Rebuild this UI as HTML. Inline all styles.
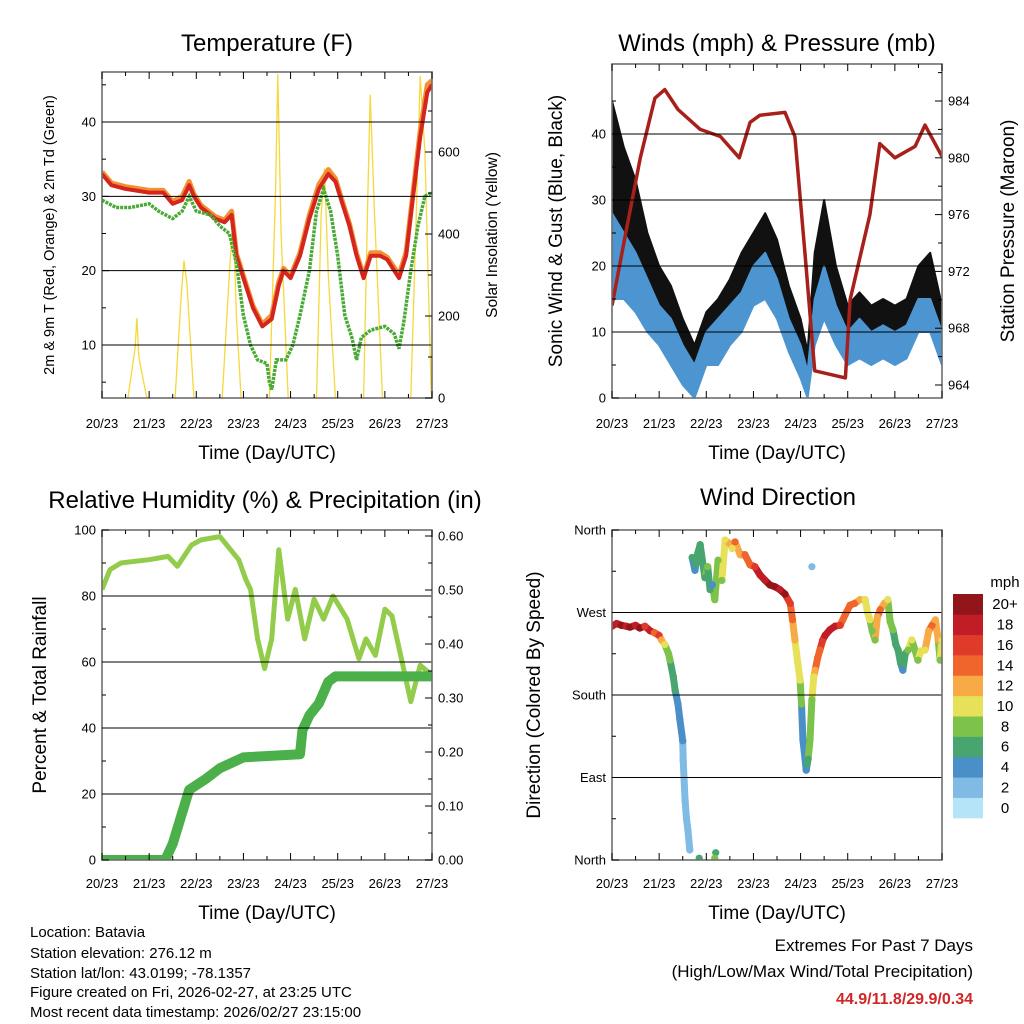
<!DOCTYPE html>
<html><head><meta charset="utf-8">
<style>
body{margin:0;background:#fff;}
svg{display:block;font-family:"Liberation Sans",sans-serif;}
</style></head>
<body>
<svg id="c" width="1024" height="1024" viewBox="0 0 1024 1024" xmlns="http://www.w3.org/2000/svg">
<g font-size="24" text-anchor="middle" fill="#000">
<text x="267" y="51">Temperature (F)</text>
<text x="777" y="51">Winds (mph) &amp; Pressure (mb)</text>
<text x="265" y="508">Relative Humidity (%) &amp; Precipitation (in)</text>
<text x="778" y="505">Wind Direction</text>
</g>
<g font-size="19" text-anchor="middle">
<text x="267" y="459">Time (Day/UTC)</text>
<text x="777" y="459">Time (Day/UTC)</text>
<text x="267" y="919">Time (Day/UTC)</text>
<text x="777" y="919">Time (Day/UTC)</text>
<text transform="translate(54,235) rotate(-90)" font-size="14.5">2m &amp; 9m T (Red, Orange) &amp; 2m Td (Green)</text>
<text transform="translate(497,235) rotate(-90)" font-size="15.5">Solar Insolation (Yellow)</text>
<text transform="translate(562,231) rotate(-90)">Sonic Wind &amp; Gust (Blue, Black)</text>
<text transform="translate(1014,231) rotate(-90)">Station Pressure (Maroon)</text>
<text transform="translate(46,695) rotate(-90)">Percent &amp; Total Rainfall</text>
<text transform="translate(540,695) rotate(-90)">Direction (Colored By Speed)</text>
</g>
<g font-size="15">
<text x="30" y="937">Location: Batavia</text>
<text x="30" y="958">Station elevation: 276.12 m</text>
<text x="30" y="978">Station lat/lon: 43.0199; -78.1357</text>
<text x="30" y="997">Figure created on Fri, 2026-02-27, at 23:25 UTC</text>
<text x="30" y="1017">Most recent data timestamp: 2026/02/27 23:15:00</text>
</g>
<g font-size="17" text-anchor="end">
<text x="973" y="951">Extremes For Past 7 Days</text>
<text x="973" y="977">(High/Low/Max Wind/Total Precipitation)</text>
<text x="973" y="1004" fill="#d02626" font-weight="bold" font-size="16">44.9/11.8/29.9/0.34</text>
</g>
</svg>
<script>
// ---- data ----
const dayLabels=["20/23","21/23","22/23","23/23","24/23","25/23","26/23","27/23"];
const tempT=[0,0.2,0.5,1.0,1.3,1.5,1.7,1.85,1.95,2.1,2.4,2.6,2.75,2.85,3.0,3.2,3.4,3.6,3.75,3.85,4.0,4.2,4.4,4.6,4.8,4.95,5.1,5.25,5.4,5.55,5.7,5.9,6.05,6.2,6.3,6.45,6.6,6.75,6.9,7.0];
const tempRed=[33,31.5,31,30.5,30.5,29,29.5,31.5,30,28.5,27,26.5,27.5,22,19,15,12.5,13.5,18,20,19,22,27,31,33,32,29,26,22,19,22,22,21.5,20,19,22,30,38,44,45];
const tempOrange=[33.3,31.8,31.3,30.8,30.8,29.3,30,32,30.3,28.8,27.3,26.8,28,22.3,19.3,15.3,12.8,14,18.5,20.3,19.3,22.4,27.5,31.6,33.6,32.4,29.3,26.3,22.3,19.3,22.4,22.4,21.8,20.4,19.4,22.5,30.6,38.8,45,45.6];
const dewT=[0,0.3,0.6,1.0,1.2,1.5,1.7,1.85,2.0,2.3,2.5,2.7,2.85,3.0,3.15,3.3,3.5,3.55,3.6,3.7,3.9,4.05,4.2,4.4,4.55,4.7,4.85,5.0,5.15,5.3,5.4,5.5,5.7,6.0,6.2,6.3,6.4,6.55,6.7,6.85,7.0];
const dewVals=[29.5,28.5,28.5,29,28,27,28,30,28,27.5,26,25,21,14,10,8,7.5,5,4,8,8,10,14,20,28,31,28,22,14,11,8,11,12,12.5,11.5,9.5,13,20,26,30,30.5];
const solarT=[0,0.55,0.7,0.74,0.78,0.95,1.55,1.68,1.74,1.8,1.95,2.55,2.7,2.78,2.85,2.95,3.55,3.68,3.73,3.8,3.95,4.55,4.65,4.72,4.8,4.95,5.55,5.64,5.69,5.78,5.95,6.55,6.68,6.75,6.85,6.98,7.0];
const solarVals=[0,0,120,195,100,0,0,250,335,280,0,0,300,445,200,0,0,500,790,400,0,0,450,560,300,0,0,500,740,450,0,0,500,785,600,20,0];
const windT=[0,0.25,0.5,0.75,1.0,1.25,1.5,1.75,2.0,2.25,2.5,2.75,3.0,3.25,3.5,3.75,4.0,4.15,4.3,4.5,4.75,5.0,5.25,5.5,5.75,6.0,6.25,6.5,6.75,7.0];
const windLow=[15,15,13,10,8,5,2,0,5,5,8,10,14,15,12,7,3,0,8,12,8,5,6,5,6,5,6,10,10,5];
const windHigh=[28,25,22,18,14,12,8,5,10,12,14,16,20,22,18,12,8,4,15,20,14,10,12,10,11,10,11,15,15,10];
const gustLow=[28,25,20,17,12,10,6,2,8,10,12,15,18,20,16,10,5,2,12,18,12,8,10,8,9,8,9,14,14,8];
const gustHigh=[45,38,33,25,20,17,12,8,13,15,18,22,25,28,24,17,12,7,22,30,20,14,16,14,15,14,15,20,22,14];
const presT=[0,0.28,0.6,0.91,1.12,1.4,1.87,2.3,2.7,2.93,3.14,3.67,3.88,4.1,4.3,4.95,5.05,5.47,5.68,6.0,6.43,6.64,7.0];
const presVals=[969.6,974.5,980,984.2,984.8,983.4,982,981.5,980,982.5,983,983.2,981.5,973,965,964.5,970,976,981,980,980.8,982.3,980.1];
const rhT=[0,0.17,0.4,1.0,1.4,1.6,1.9,2.1,2.5,2.9,3.05,3.15,3.3,3.45,3.6,3.75,3.94,4.1,4.3,4.5,4.7,4.9,5.2,5.45,5.6,5.8,6.0,6.15,6.35,6.55,6.75,7.0];
const rhVals=[82,88,90,91,92,89,95.5,97,98,91,85,82,67,58,67,94,73,82,67,79,73,80,73,61,67,62,76,74,61,48,59,56];
const precipT=[0,1.34,1.5,1.85,2.2,2.5,2.75,3.0,4.2,4.25,4.4,4.6,4.8,4.95,7.0];
const precipVals=[0,0,0.03,0.13,0.15,0.17,0.18,0.19,0.196,0.24,0.268,0.29,0.33,0.34,0.34];
const dirT=[0,.1,.2,.3,.38,.5,.59,.7,.81,.9,1.0,1.05,1.12,1.2,1.23,1.3,1.34,1.4,1.44,1.5,1.51,1.55,1.58,1.61,1.65,1.70,1.76,1.82,1.87,1.97,2.03,2.08,2.13,2.18,2.25,2.33,2.40,2.50,2.55,2.61,2.72,2.82,2.93,3.03,3.14,3.25,3.35,3.46,3.56,3.67,3.78,3.83,3.88,3.94,3.99,4.02,4.05,4.12,4.16,4.20,4.24,4.28,4.31,4.36,4.41,4.47,4.52,4.62,4.73,4.84,4.95,5.05,5.15,5.26,5.37,5.42,5.47,5.52,5.58,5.63,5.69,5.78,5.85,5.9,5.96,6.02,6.07,6.12,6.17,6.22,6.28,6.36,6.42,6.49,6.55,6.64,6.72,6.79,6.86,6.92,6.96,7.0,1.85,2.2,2.18,4.24];
const dirDeg=[255,258,256,255,254,256,253,255,250,248,245,240,235,225,218,200,185,170,153,130,109,65,45,33,11,330,316,335,344,308,320,295,300,284,327,305,349,345,340,347,333,333,322,320,311,305,300,298,295,290,280,262,240,215,196,170,131,98,110,131,175,200,207,220,229,240,245,251,255,256,268,278,280,284,284,270,262,250,240,265,273,280,284,260,251,235,229,215,207,225,229,240,230,218,228,229,250,256,262,240,218,240,2,8,2,320];
const dirSpd=[18,17,19,18,20,17,19,16,18,14,16,12,10,8,7,6,5,4,3,3,2,1,1,1,1,6,4,5,6,5,7,6,4,7,8,7,10,12,9,13,11,13,14,16,17,18,19,20,18,19,16,14,12,10,9,8,4,3,6,7,8,10,12,14,13,16,18,18,17,16,14,13,14,12,10,9,10,8,7,11,13,11,10,8,7,6,6,5,4,6,7,10,8,7,9,10,12,13,12,11,8,9,6,6,7,2];
const speedColors=["#b5e3f7","#7fbbe5","#4a8fc8","#48a56f","#7cc24b","#e6e158","#f8aa47","#f0652b","#e03a2a","#c01d27","#921519"];
const speedLabels=["0","2","4","6","8","10","12","14","16","18","20+"];

// ---- helpers ----
const NS="http://www.w3.org/2000/svg";
const svg=document.getElementById('c');
function mk(tag,attrs,parent){const e=document.createElementNS(NS,tag);for(const k in attrs)e.setAttribute(k,attrs[k]);(parent||svg).appendChild(e);return e;}
function lin(d0,d1,p0,p1){return v=>p0+(v-d0)*(p1-p0)/(d1-d0);}
function pathOf(ts,vs,sx,sy){return ts.map((t,i)=>(i?'L':'M')+sx(t).toFixed(1)+','+sy(vs[i]).toFixed(1)).join('');}

let clipN=0;
function panel(name,x0,y0,x1,y1){
  const g=mk('g',{});
  
  
  const id='cl'+(clipN++);
  const cp=mk('clipPath',{id:id},g);mk('rect',{x:x0,y:y0,width:x1-x0,height:y1-y0},cp);
  const inner=mk('g',{'clip-path':'url(#'+id+')'},g);
  return {g,inner,x0,y0,x1,y1};
}
function grid(P,ys){ys.forEach(y=>{const l=mk('line',{x1:P.x0,x2:P.x1,y1:y,y2:y,stroke:'#000','stroke-width':1},P.g);});}
function frame(P){const r=mk('rect',{x:P.x0,y:P.y0,width:P.x1-P.x0,height:P.y1-P.y0,fill:'none',stroke:'#6e6e6e','stroke-width':1.6},P.g);}
function xAxis(P,sx,labY){
  for(let d=0;d<=7;d++){const x=sx(d);
    mk('line',{x1:x,x2:x,y1:P.y1,y2:P.y1-7,stroke:'#000'},P.g);
    mk('line',{x1:x,x2:x,y1:P.y0,y2:P.y0+7,stroke:'#000'},P.g);
    const t=mk('text',{x:x,y:labY,'font-size':13,'text-anchor':'middle'},P.g);t.textContent=dayLabels[d];
    
    
    if(d<7){const xm=sx(d+0.5);mk('line',{x1:xm,x2:xm,y1:P.y1,y2:P.y1-4,stroke:'#000'},P.g);mk('line',{x1:xm,x2:xm,y1:P.y0,y2:P.y0+4,stroke:'#000'},P.g);}
  }
}
function yAxis(P,sy,vals,labels,side,minor){
  const xe=side==='L'?P.x0:P.x1, dir=side==='L'?1:-1;
  vals.forEach((v,i)=>{const y=sy(v);mk('line',{x1:xe,x2:xe+dir*7,y1:y,y2:y,stroke:'#000'},P.g);
    const t=mk('text',{x:side==='L'?xe-6:xe+6,y:y+4.5,'font-size':13,'text-anchor':side==='L'?'end':'start'},P.g);t.textContent=labels[i];
    
    });
  (minor||[]).forEach(v=>{const y=sy(v);if(y<P.y0||y>P.y1)return;mk('line',{x1:xe,x2:xe+dir*4,y1:y,y2:y,stroke:'#000'},P.g);});
}

// ---- Panel 1: temperature ----
{const P=panel('temperature-panel',102,72,432,398);
 const sx=lin(0,7,102,432), sy=lin(10,40,345,122), sr=lin(0,600,398,152);
 const s=mk('path',{d:pathOf(solarT,solarVals,sx,sr),fill:'none',stroke:'#f6d83c','stroke-width':1.3},P.inner);
 
 grid(P,[10,20,30,40].map(sy));
 const o=mk('path',{d:pathOf(tempT,tempOrange,sx,sy),fill:'none',stroke:'#f39032','stroke-width':5,'stroke-linejoin':'round'},P.inner);
 
 const r=mk('path',{d:pathOf(tempT,tempRed,sx,sy),fill:'none',stroke:'#d4261e','stroke-width':4,'stroke-linejoin':'round'},P.inner);
 
 const dw=mk('path',{d:pathOf(dewT,dewVals,sx,sy),fill:'none',stroke:'#4aaa36','stroke-width':3.5,'stroke-dasharray':'3,1'},P.inner);
 
 frame(P);xAxis(P,sx,428);
 yAxis(P,sy,[10,20,30,40],["10","20","30","40"],'L',[5,15,25,35,45]);
 yAxis(P,sr,[0,200,400,600],["0","200","400","600"],'R',[100,300,500,700]);
}
// ---- Panel 2: winds ----
{const P=panel('winds-panel',612,64,942,398);
 const sx=lin(0,7,612,942), sy=lin(0,40,398,134), sp=lin(964,984,385,101);
 grid(P,[0,10,20,30,40].map(sy));
 const band=(lo,hi,col,nm)=>{const d=pathOf(windT,hi,sx,sy)+windT.slice().reverse().map((t,i)=>'L'+sx(t).toFixed(1)+','+sy(lo[lo.length-1-i]).toFixed(1)).join('')+'Z';
   const e=mk('path',{d:d,fill:col,stroke:col,'stroke-width':2,'stroke-linejoin':'round'},P.inner);
   };
 band(gustLow,gustHigh,'#111','gust-black-band');
 band(windLow,windHigh,'#4d95d0','wind-blue-band');
 const pr=mk('path',{d:pathOf(presT,presVals,sx,sp),fill:'none',stroke:'#a8201c','stroke-width':3.5,'stroke-linejoin':'round'},P.inner);
 
 frame(P);xAxis(P,sx,428);
 yAxis(P,sy,[0,10,20,30,40],["0","10","20","30","40"],'L',[5,15,25,35,45]);
 yAxis(P,sp,[964,968,972,976,980,984],["964","968","972","976","980","984"],'R',[966,970,974,978,982,986]);
}
// ---- Panel 3: humidity ----
{const P=panel('humidity-panel',102,530,432,860);
 const sx=lin(0,7,102,432), sy=lin(0,100,860,530), sr=lin(0,0.6,860,536);
 grid(P,[20,40,60,80].map(sy));
 const h=mk('path',{d:pathOf(rhT,rhVals,sx,sy),fill:'none',stroke:'#93cc4a','stroke-width':5,'stroke-linejoin':'round'},P.inner);
 
 const pc=mk('path',{d:pathOf(precipT,precipVals,sx,sr),fill:'none',stroke:'#4bb04a','stroke-width':10,'stroke-linejoin':'round'},P.inner);
 
 frame(P);xAxis(P,sx,888);
 yAxis(P,sy,[0,20,40,60,80,100],["0","20","40","60","80","100"],'L',[10,30,50,70,90]);
 yAxis(P,sr,[0,0.1,0.2,0.3,0.4,0.5,0.6],["0.00","0.10","0.20","0.30","0.40","0.50","0.60"],'R',[0.05,0.15,0.25,0.35,0.45,0.55]);
}
// ---- Panel 4: wind direction ----
{const P=panel('wind-direction-panel',612,530,942,860);
 const sx=lin(0,7,612,942), sy=lin(0,360,860,530);
 grid(P,[90,180,270].map(sy));
 const col=s=>speedColors[Math.max(0,Math.min(10,Math.round(s/2)))];
 for(let i=1;i<dirT.length;i++){
   const dt=dirT[i]-dirT[i-1], dd=Math.abs(dirDeg[i]-dirDeg[i-1]);
   if(dt<=0||dt>0.13||dd>45)continue;
   const l=mk('line',{x1:sx(dirT[i-1]),y1:sy(dirDeg[i-1]),x2:sx(dirT[i]),y2:sy(dirDeg[i]),stroke:col(dirSpd[i]),'stroke-width':7,'stroke-linecap':'round'},P.inner);
   
   
 }
 for(let i=0;i<dirT.length;i++){
   const c=mk('circle',{cx:sx(dirT[i]),cy:sy(dirDeg[i]),r:3.6,fill:col(dirSpd[i])},P.inner);
   
   
 }
 frame(P);xAxis(P,sx,888);
 yAxis(P,sy,[0,90,180,270,360],["North","East","South","West","North"],'L',[45,135,225,315]);
 const cb=mk('g',{});
 
 
 const bh=(818-594)/11;
 speedColors.forEach((c,i)=>{const y=818-(i+1)*bh;
   const r=mk('rect',{x:953,y:y,width:30,height:bh+0.3,fill:c},cb);
   
   
   const t=mk('text',{x:1005,y:y+bh/2+5,'font-size':15,'text-anchor':'middle'},cb);t.textContent=speedLabels[i];
   
   });
 const mt=mk('text',{x:1005,y:587,'font-size':15,'text-anchor':'middle'},cb);mt.textContent='mph';
 
 
}
</script>
</body></html>
